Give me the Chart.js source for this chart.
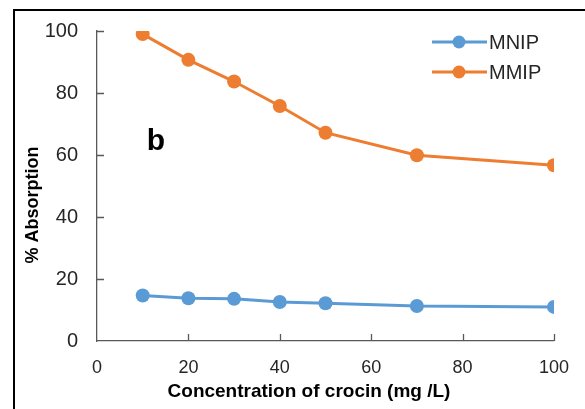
<!DOCTYPE html>
<html>

<head>
    <script src="https://cdn.jsdelivr.net/npm/chart.js@4.4.2/dist/chart.umd.min.js"></script>
    <style>
        body { margin: 0; background: #fff; }
        .chart-container { position: relative; width: 585px; height: 409px; }
    </style>
</head>

<body>
    <div class="chart-container">
        <canvas id="chart"></canvas>
    </div>
</body>
<script>
    // crocin concentration (mg/L)
    const concentration = [10, 20, 30, 40, 50, 70, 100];
    // % absorption
    const mnip = [14.7, 13.8, 13.6, 12.6, 12.2, 11.3, 11.0];
    const mmip = [99.0, 90.7, 83.7, 75.8, 67.2, 59.9, 56.7];
    const xTicks = [0, 20, 40, 60, 80, 100];
    const yTicks = [0, 20, 40, 60, 80, 100];

    const BLUE = '#5B9BD5';
    const ORANGE = '#ED7D31';
    const AXIS = '#595959';
    const FONT = 'Liberation Sans, Arial, sans-serif';

    const canvas = document.getElementById('chart');

    // frame, inward tick marks, axis titles, panel letter and legend
    const decorations = {
        id: 'decorations',
        beforeDraw(chart) {
            const ctx = chart.ctx;
            ctx.save();
            ctx.fillStyle = '#fff';
            ctx.fillRect(0, 0, chart.width, chart.height);
            ctx.restore();
        },
        afterDraw(chart) {
            const ctx = chart.ctx;
            const area = chart.chartArea;
            const x = chart.scales.x;
            const y = chart.scales.y;
            ctx.save();

            // outer frame
            ctx.strokeStyle = '#000';
            ctx.lineWidth = 2;
            ctx.strokeRect(14, 10, 700, 600);

            // tick marks pointing into the plot
            ctx.strokeStyle = AXIS;
            ctx.lineWidth = 1.3;
            ctx.beginPath();
            for (const v of xTicks) {
                if (v === 0) continue;
                const px = Math.round(x.getPixelForValue(v)) + 0.5;
                ctx.moveTo(px, area.bottom);
                ctx.lineTo(px, area.bottom - 7);
            }
            for (const v of yTicks) {
                if (v === 0) continue;
                const py = Math.round(y.getPixelForValue(v)) + 0.5;
                ctx.moveTo(area.left, py);
                ctx.lineTo(area.left + 7, py);
            }
            ctx.stroke();

            // axis titles
            ctx.fillStyle = '#000';
            ctx.font = 'bold 19px ' + FONT;
            ctx.textAlign = 'center';
            ctx.textBaseline = 'alphabetic';
            ctx.fillText('Concentration of crocin (mg /L)', 309, 397);

            ctx.save();
            ctx.translate(33, 205);
            ctx.rotate(-Math.PI / 2);
            ctx.font = 'bold 18px ' + FONT;
            ctx.textBaseline = 'middle';
            ctx.fillText('% Absorption', 0, 0);
            ctx.restore();

            // panel letter
            ctx.font = 'bold 30px ' + FONT;
            ctx.textAlign = 'center';
            ctx.textBaseline = 'alphabetic';
            ctx.fillText('b', 156, 150);

            // legend
            const items = chart.data.datasets;
            items.forEach((ds, i) => {
                const ly = 42 + i * 30;
                ctx.strokeStyle = ds.borderColor;
                ctx.lineWidth = 3;
                ctx.beginPath();
                ctx.moveTo(432, ly);
                ctx.lineTo(487, ly);
                ctx.stroke();
                ctx.fillStyle = ds.backgroundColor;
                ctx.beginPath();
                ctx.arc(459, ly, 6.5, 0, Math.PI * 2);
                ctx.fill();
                ctx.fillStyle = '#262626';
                ctx.font = '20px ' + FONT;
                ctx.textAlign = 'left';
                ctx.textBaseline = 'middle';
                ctx.fillText(ds.label, 489, ly + 1);
            });

            ctx.restore();
        }
    };

    const data = {
        datasets: [
            {
                label: 'MNIP',
                borderColor: BLUE,
                backgroundColor: BLUE,
                data: concentration.map((c, i) => ({ x: c, y: mnip[i] }))
            },
            {
                label: 'MMIP',
                borderColor: ORANGE,
                backgroundColor: ORANGE,
                data: concentration.map((c, i) => ({ x: c, y: mmip[i] }))
            }
        ]
    };

    const config = {
        type: 'line',
        data: data,
        options: {
            responsive: true,
            maintainAspectRatio: false,
            animation: false,
            layout: {
                padding: { left: 0, right: 29, top: 31, bottom: 0 }
            },
            elements: {
                line: { borderWidth: 3, tension: 0 },
                point: { radius: 7, borderWidth: 0, hoverRadius: 7 }
            },
            plugins: {
                legend: { display: false },
                tooltip: { enabled: false }
            },
            scales: {
                x: {
                    type: 'linear',
                    min: 0,
                    max: 100,
                    afterFit(scale) { scale.height = 68; },
                    afterBuildTicks(scale) { scale.ticks = xTicks.map(v => ({ value: v })); },
                    grid: { drawOnChartArea: false, drawTicks: false },
                    border: { display: true, color: AXIS, width: 1.3 },
                    ticks: {
                        padding: 16,
                        color: '#262626',
                        font: { family: FONT, size: 18 }
                    }
                },
                y: {
                    min: 0,
                    max: 100,
                    afterFit(scale) { scale.width = 97; },
                    afterBuildTicks(scale) { scale.ticks = yTicks.map(v => ({ value: v })); },
                    grid: { drawOnChartArea: false, drawTicks: false },
                    border: { display: true, color: AXIS, width: 1.3 },
                    ticks: {
                        padding: 19,
                        color: '#262626',
                        font: { family: FONT, size: 20 }
                    }
                }
            }
        },
        plugins: [decorations]
    };

    const chart = new Chart(canvas, config);
</script>

</html>
